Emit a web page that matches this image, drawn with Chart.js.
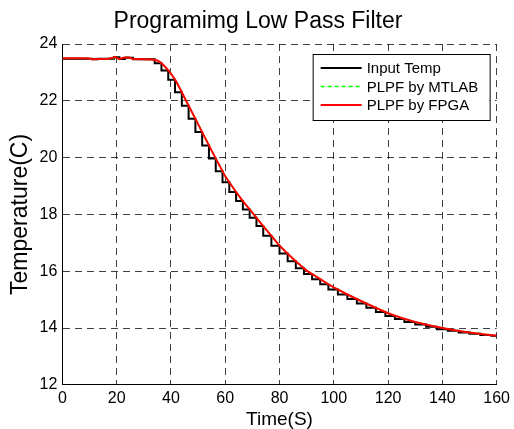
<!DOCTYPE html>
<html>
<head>
<meta charset="utf-8">
<script src="https://cdn.jsdelivr.net/npm/chart.js@4.4.1/dist/chart.umd.min.js"></script>
<style>
  html, body { margin: 0; padding: 0; background: #fff; }
  #wrap { width: 514px; height: 429px; }
</style>
</head>
<body>
<div id="wrap"><canvas id="filterChart" width="514" height="429"></canvas></div>
<script>
// filtered output, sampled times (s) and temperatures (C)
const filterTime = [0, 8, 10, 11, 13, 17, 19.5, 21, 22.5, 24.5, 26, 30, 33, 35, 36, 37, 38, 39, 40,
    42, 44, 46, 48, 50, 52, 54, 56, 58, 60, 62, 64, 66, 68, 70, 72, 74, 76, 78, 80,
    82, 84, 86, 88, 90, 92, 94, 96, 98, 100, 105, 110, 115, 120, 125, 130, 135, 140,
    145, 150, 155, 160];
const fpgaTemp = [23.50, 23.50, 23.49, 23.46, 23.47, 23.48, 23.54, 23.47, 23.52, 23.53, 23.47, 23.46, 23.45, 23.42, 23.36, 23.28, 23.18, 23.07, 22.96,
    22.67, 22.30, 21.92, 21.55, 21.18, 20.80, 20.43, 20.06, 19.70, 19.34, 19.06, 18.79, 18.53, 18.29, 18.06, 17.82, 17.59, 17.36, 17.13, 16.90,
    16.71, 16.53, 16.35, 16.18, 16.02, 15.90, 15.78, 15.66, 15.54, 15.43, 15.18, 14.95, 14.73, 14.52, 14.35, 14.21, 14.10, 14.00,
    13.91, 13.84, 13.78, 13.73];
const matlabTemp = [23.50, 23.50, 23.49, 23.46, 23.47, 23.48, 23.53, 23.47, 23.52, 23.53, 23.47, 23.46, 23.45, 23.42, 23.36, 23.28, 23.18, 23.07, 22.96,
    22.67, 22.30, 21.92, 21.55, 21.18, 20.80, 20.43, 20.06, 19.70, 19.34, 19.06, 18.79, 18.53, 18.29, 18.06, 17.82, 17.59, 17.36, 17.13, 16.90,
    16.71, 16.53, 16.35, 16.18, 16.02, 15.90, 15.78, 15.66, 15.54, 15.43, 15.18, 14.95, 14.73, 14.52, 14.35, 14.21, 14.10, 14.00,
    13.91, 13.84, 13.78, 13.73];

// raw sensor input: time of each reading and the value held until the next one
const inputTime = [0, 11, 13, 19, 21, 23, 26, 34, 36.5, 39, 41.5, 44, 46.5, 49, 51.5, 54, 56.5, 59, 61.5,
    64, 66.5, 69, 71.5, 74, 77, 80, 83, 86, 89, 92, 95, 98, 101.5, 105, 108.5, 112, 115.5,
    119, 122.5, 126, 130, 134, 138, 142, 146, 150, 154, 158, 160];
const inputTemp = [23.48, 23.46, 23.48, 23.53, 23.47, 23.52, 23.46, 23.32, 23.07, 22.74, 22.30, 21.83, 21.37, 20.90, 20.43, 19.97, 19.52, 19.13, 18.79,
    18.47, 18.17, 17.88, 17.59, 17.25, 16.90, 16.62, 16.35, 16.10, 15.90, 15.72, 15.54, 15.36, 15.18, 15.02, 14.86, 14.71, 14.56,
    14.42, 14.32, 14.21, 14.12, 14.04, 13.96, 13.90, 13.84, 13.80, 13.75, 13.73, 13.73];

const xTicks = [0, 20, 40, 60, 80, 100, 120, 140, 160];
const yTicks = [12, 14, 16, 18, 20, 22, 24];

const seriesNames = ['Input Temp', 'PLPF by MTLAB', 'PLPF by FPGA'];
const chartTitle = 'Programimg Low Pass Filter';
const FONT = "'Liberation Sans', Arial, Helvetica, sans-serif";

function toPoints(xs, ys) {
    return xs.map((x, i) => ({ x: x, y: ys[i] }));
}

// title sits a little right of the canvas centre, over the figure
const figureTitle = {
    id: 'figureTitle',
    afterDraw(chart) {
        const ctx = chart.ctx;
        ctx.save();
        ctx.font = '23px ' + FONT;
        ctx.fillStyle = '#000';
        ctx.textAlign = 'center';
        ctx.textBaseline = 'middle';
        ctx.fillText(chartTitle, 258, 22);
        ctx.restore();
    }
};

// boxed legend in the upper right corner of the plot
const boxLegend = {
    id: 'boxLegend',
    afterDatasetsDraw(chart) {
        const ctx = chart.ctx;
        const area = chart.chartArea;
        const w = 177, h = 66;
        const left = area.right - 7 - w;
        const top = area.top + 10;
        ctx.save();
        ctx.fillStyle = '#fff';
        ctx.fillRect(left, top, w, h);
        ctx.strokeStyle = '#000';
        ctx.lineWidth = 1;
        ctx.strokeRect(left + 0.5, top + 0.5, w, h);
        ctx.font = '15px ' + FONT;
        ctx.textBaseline = 'middle';
        chart.data.datasets.forEach((ds, i) => {
            const y = top + 14 + i * 18.5;
            ctx.beginPath();
            ctx.strokeStyle = ds.borderColor;
            ctx.lineWidth = ds.borderWidth;
            ctx.setLineDash(ds.borderDash || []);
            ctx.moveTo(left + 8, y);
            ctx.lineTo(left + 49, y);
            ctx.stroke();
            ctx.setLineDash([]);
            ctx.fillStyle = '#000';
            ctx.fillText(ds.label, left + 54, y + 1);
        });
        ctx.restore();
    }
};

const ctx = document.getElementById('filterChart').getContext('2d');
new Chart(ctx, {
    type: 'line',
    data: {
        datasets: [{
            label: seriesNames[0],
            data: toPoints(inputTime, inputTemp),
            stepped: 'before',
            borderColor: '#000000',
            borderWidth: 2,
            pointRadius: 0,
            fill: false,
            order: 3
        }, {
            label: seriesNames[1],
            data: toPoints(filterTime, matlabTemp),
            borderColor: '#00ff00',
            borderWidth: 1.5,
            borderDash: [4, 3],
            pointRadius: 0,
            tension: 0,
            fill: false,
            order: 2
        }, {
            label: seriesNames[2],
            data: toPoints(filterTime, fpgaTemp),
            borderColor: '#ff0000',
            borderWidth: 2,
            pointRadius: 0,
            tension: 0,
            fill: false,
            order: 1
        }]
    },
    options: {
        responsive: false,
        animation: false,
        layout: { padding: { left: 7, right: 11, top: 44, bottom: 0 } },
        plugins: {
            legend: { display: false },
            tooltip: { enabled: false },
            title: { display: false }
        },
        scales: {
            x: {
                type: 'linear',
                min: 0,
                max: 160,
                afterBuildTicks: axis => { axis.ticks = xTicks.map(v => ({ value: v })); },
                ticks: { color: '#000', padding: 4, maxRotation: 0, font: { family: FONT, size: 16 } },
                grid: { color: 'rgba(0,0,0,0.75)', lineWidth: 1, drawTicks: false },
                border: { display: true, color: '#000', width: 1, dash: [7, 5] },
                title: {
                    display: true,
                    text: 'Time(S)',
                    color: '#000',
                    font: { family: FONT, size: 19, lineHeight: 1 },
                    padding: { top: -2, bottom: 0 }
                }
            },
            y: {
                type: 'linear',
                min: 12,
                max: 24,
                afterBuildTicks: axis => { axis.ticks = yTicks.map(v => ({ value: v })); },
                ticks: { color: '#000', padding: 5, font: { family: FONT, size: 16 } },
                grid: { color: 'rgba(0,0,0,0.75)', lineWidth: 1, drawTicks: false },
                border: { display: true, color: '#000', width: 1, dash: [7, 5] },
                title: {
                    display: true,
                    text: 'Temperature(C)',
                    color: '#000',
                    font: { family: FONT, size: 23 },
                    padding: { top: 0, bottom: 0 }
                }
            }
        }
    },
    plugins: [boxLegend, figureTitle]
});
</script>
</body>
</html>
